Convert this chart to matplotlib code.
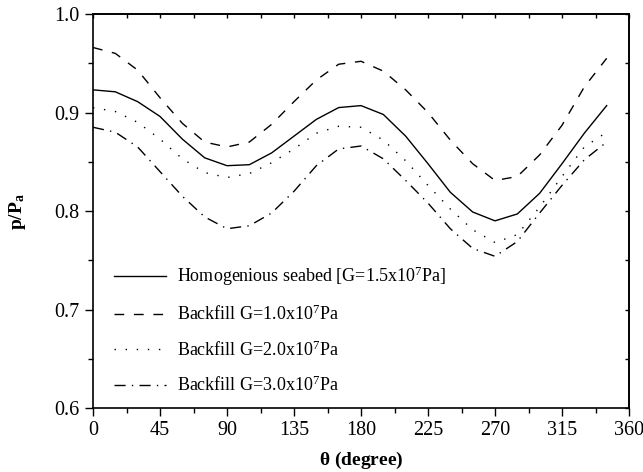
import numpy as np
import matplotlib
matplotlib.use("Agg")
import matplotlib.pyplot as plt

plt.rcParams['font.family'] = ['Liberation Serif', 'DejaVu Serif']
plt.rcParams['mathtext.fontset'] = 'custom'
plt.rcParams['mathtext.rm'] = 'Liberation Serif'
plt.rcParams['mathtext.bf'] = 'Liberation Serif:bold'
plt.rcParams['mathtext.it'] = 'Liberation Serif:italic'

# angle in degrees, every 15 deg
theta = list(range(0, 360, 15))

# Homogenious seabed G=1.5e7 Pa
homog = [0.923, 0.921, 0.911, 0.896, 0.873, 0.854, 0.846, 0.847, 0.859, 0.876,
         0.893, 0.905, 0.907, 0.898, 0.876, 0.848, 0.819, 0.799, 0.790, 0.797,
         0.818, 0.848, 0.879, 0.907]
# Backfill G=1.0e7 Pa
back_10 = [0.966, 0.960, 0.943, 0.915, 0.889, 0.870, 0.865, 0.870, 0.888, 0.911,
           0.933, 0.949, 0.952, 0.942, 0.923, 0.900, 0.872, 0.848, 0.831, 0.835,
           0.857, 0.887, 0.926, 0.955]
# Backfill G=2.0e7 Pa
back_20 = [0.905, 0.901, 0.890, 0.873, 0.853, 0.839, 0.834, 0.838, 0.849, 0.863,
           0.879, 0.886, 0.885, 0.872, 0.851, 0.826, 0.802, 0.781, 0.768, 0.776,
           0.804, 0.835, 0.865, 0.880]
# Backfill G=3.0e7 Pa
back_30 = [0.885, 0.880, 0.865, 0.840, 0.815, 0.794, 0.782, 0.785, 0.798, 0.820,
           0.846, 0.863, 0.866, 0.853, 0.831, 0.808, 0.782, 0.762, 0.754, 0.769,
           0.798, 0.826, 0.852, 0.870]

labels = [r'Homogenious seabed [G=1.5x10$^\mathregular{7}$Pa]',
          r'Backfill G=1.0x10$^\mathregular{7}$Pa',
          r'Backfill G=2.0x10$^\mathregular{7}$Pa',
          r'Backfill G=3.0x10$^\mathregular{7}$Pa']

fig = plt.figure(figsize=(6.43, 4.72), dpi=100)
ax = fig.add_axes([93 / 643, 1 - 408 / 472, 536 / 643, 394 / 472])

lw = 1.0
ax.plot(theta, homog, color='black', lw=lw, label=labels[0])
ax.plot(theta, back_10, color='black', lw=lw, dashes=(7, 7), label=labels[1])
ax.plot(theta, back_20, color='black', lw=lw, dashes=(1, 7), label=labels[2])
ax.plot(theta, back_30, color='black', lw=lw, dashes=(8, 4.5, 1, 4.5), label=labels[3])

ax.set_xlim(0, 360)
ax.set_ylim(0.6, 1.0)
ax.set_xticks(np.arange(0, 361, 45))
ax.set_xticks(np.arange(0, 361, 22.5), minor=True)
ax.set_yticks([0.6, 0.7, 0.8, 0.9, 1.0])
ax.set_yticks(np.arange(0.6, 1.001, 0.05), minor=True)
ax.set_yticklabels(['0.6', '0.7', '0.8', '0.9', '1.0'])

ax.tick_params(which='both', direction='out', labelsize=14.5, width=1.0)
ax.tick_params(which='major', length=6)
ax.tick_params(which='minor', length=3.5)

# mirrored ticks on top and right, pointing inward
secx = ax.secondary_xaxis('top')
secx.set_xticks(np.arange(0, 361, 45))
secx.set_xticks(np.arange(0, 361, 22.5), minor=True)
secx.tick_params(which='both', direction='in', labeltop=False, length=3, width=1.0)
secy = ax.secondary_yaxis('right')
secy.set_yticks([0.6, 0.7, 0.8, 0.9, 1.0])
secy.set_yticks(np.arange(0.6, 1.001, 0.05), minor=True)
secy.tick_params(which='both', direction='in', labelright=False, length=3, width=1.0)

for sp in list(ax.spines.values()) + [secx.spines['top'], secy.spines['right']]:
    sp.set_linewidth(1.2)

ax.set_xlabel(r'$\mathbf{\theta}$ (degree)', fontsize=14, fontweight='bold', labelpad=7)
ax.set_ylabel(r'p/P$_\mathbf{a}$', fontsize=14, fontweight='bold', labelpad=19)

ax.legend(loc='lower left', bbox_to_anchor=(0.015, 0.0), frameon=False,
          fontsize=13, handlelength=2.9, handletextpad=0.6, labelspacing=0.9,
          borderpad=0.2)

fig.savefig('out.png', dpi=100)
